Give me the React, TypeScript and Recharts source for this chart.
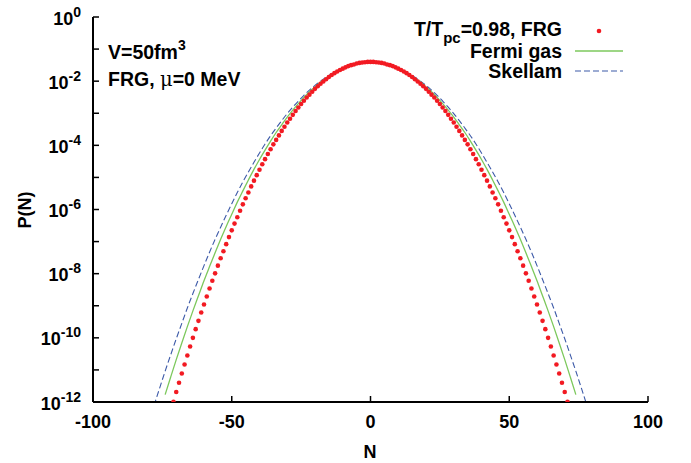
import React from 'react';
import { ComposedChart, Line, Scatter, XAxis, YAxis } from 'recharts';

const W = 691;
const H = 463;
const FONT = '"Liberation Sans", Arial, Helvetica, sans-serif';

// FRG points at every integer N, starting from frgStartN (log10 P)
const frgStartN = -71;
const frgLog10 = [
  -11.99, -11.69, -11.40, -11.11, -10.83, -10.55, -10.27, -10.00, -9.73, -9.47,
  -9.21, -8.96, -8.71, -8.46, -8.22, -7.99, -7.75, -7.52, -7.30, -7.08,
  -6.86, -6.65, -6.44, -6.24, -6.04, -5.84, -5.65, -5.47, -5.28, -5.10,
  -4.93, -4.76, -4.59, -4.43, -4.27, -4.12, -3.97, -3.83, -3.69, -3.55,
  -3.42, -3.29, -3.17, -3.05, -2.93, -2.82, -2.71, -2.61, -2.51, -2.42,
  -2.33, -2.24, -2.16, -2.08, -2.01, -1.94, -1.87, -1.81, -1.75, -1.70,
  -1.65, -1.61, -1.57, -1.53, -1.50, -1.48, -1.45, -1.43, -1.42, -1.41,
  -1.40,
  -1.40,
  -1.40, -1.41, -1.42, -1.43, -1.45, -1.48, -1.50, -1.53, -1.57, -1.61,
  -1.65, -1.70, -1.75, -1.81, -1.87, -1.94, -2.01, -2.08, -2.16, -2.24,
  -2.33, -2.42, -2.51, -2.61, -2.71, -2.82, -2.93, -3.05, -3.17, -3.29,
  -3.42, -3.55, -3.69, -3.83, -3.97, -4.12, -4.27, -4.43, -4.59, -4.76,
  -4.93, -5.10, -5.28, -5.47, -5.65, -5.84, -6.04, -6.24, -6.44, -6.65,
  -6.86, -7.08, -7.30, -7.52, -7.75, -7.99, -8.22, -8.46, -8.71, -8.96,
  -9.21, -9.47, -9.73, -10.00, -10.27, -10.55, -10.83, -11.11, -11.40, -11.69,
  -11.99,
];

// Fermi gas curve, sampled every 2 in N from fermiStartN (log10 P)
const fermiStartN = -74;
const fermiLog10 = [
  -11.77, -11.22, -10.68, -10.16, -9.65, -9.16, -8.69, -8.22, -7.78, -7.35,
  -6.93, -6.53, -6.15, -5.77, -5.42, -5.08, -4.75, -4.44, -4.15, -3.87,
  -3.60, -3.36, -3.12, -2.90, -2.70, -2.51, -2.33, -2.18, -2.03, -1.90,
  -1.79, -1.69, -1.61, -1.54, -1.49, -1.45, -1.43,
  -1.42,
  -1.43, -1.45, -1.49, -1.54, -1.61, -1.69, -1.79,
  -1.90, -2.03, -2.18, -2.33, -2.51, -2.70, -2.90, -3.12, -3.36, -3.60,
  -3.87, -4.15, -4.44, -4.75, -5.08, -5.42, -5.77, -6.15, -6.53, -6.93,
  -7.35, -7.78, -8.22, -8.69, -9.16, -9.65, -10.16, -10.68, -11.22, -11.77,
];

// Skellam curve, sampled every 2 in N from skellamStartN (log10 P)
const skellamStartN = -78;
const skellamLog10 = [
  -12.11, -11.57, -11.04, -10.53, -10.03, -9.55, -9.07, -8.62, -8.18, -7.75,
  -7.33, -6.93, -6.55, -6.18, -5.82, -5.47, -5.14, -4.83, -4.53, -4.24,
  -3.96, -3.70, -3.46, -3.23, -3.01, -2.81, -2.62, -2.44, -2.28, -2.13,
  -2.00, -1.88, -1.77, -1.68, -1.61, -1.54, -1.49, -1.46, -1.44,
  -1.43,
  -1.44, -1.46, -1.49, -1.54, -1.61, -1.68, -1.77, -1.88, -2.00,
  -2.13, -2.28, -2.44, -2.62, -2.81, -3.01, -3.23, -3.46, -3.70, -3.96,
  -4.24, -4.53, -4.83, -5.14, -5.47, -5.82, -6.18, -6.55, -6.93, -7.33,
  -7.75, -8.18, -8.62, -9.07, -9.55, -10.03, -10.53, -11.04, -11.57, -12.11,
];

const xTicks = [-100, -50, 0, 50, 100];
const yTickExps = [0, -1, -2, -3, -4, -5, -6, -7, -8, -9, -10, -11, -12];

const frgData = frgLog10.map((v, i) => ({ n: frgStartN + i, p: 10 ** v }));
const fermiData = fermiLog10.map((v, i) => ({ n: fermiStartN + 2 * i, p: 10 ** v }));
const skellamData = skellamLog10.map((v, i) => ({ n: skellamStartN + 2 * i, p: 10 ** v }));
const yTicks = yTickExps.map((e) => 10 ** e);

const RED = '#f21a22';
const GREEN = '#7cc85c';
const BLUE = '#3d5aa8';

function BottomTick({ x, y, payload }: any) {
  return (
    <g>
      <line x1={x} y1={y} x2={x} y2={y - 6} stroke="#000" strokeWidth={1.5} />
      <text x={x} y={y + 26} textAnchor="middle" fontFamily={FONT} fontWeight="bold" fontSize={18} fill="#000">
        {payload.value}
      </text>
    </g>
  );
}

function TopTick({ x, y }: any) {
  return <line x1={x} y1={y} x2={x} y2={y + 6} stroke="#000" strokeWidth={1.5} />;
}

function LeftTick({ x, y, payload }: any) {
  const e = Math.round(Math.log10(payload.value));
  return (
    <g>
      <line x1={x} y1={y} x2={x + 6} y2={y} stroke="#000" strokeWidth={1.5} />
      {e % 2 === 0 && (
        <text x={x - 12} y={y + 7.5} textAnchor="end" fontFamily={FONT} fontWeight="bold" fontSize={18} fill="#000">
          <tspan>10</tspan>
          <tspan dy={-8} fontSize={14}>{e}</tspan>
        </text>
      )}
    </g>
  );
}

function RightTick({ x, y }: any) {
  return <line x1={x} y1={y} x2={x - 6} y2={y} stroke="#000" strokeWidth={1.5} />;
}

const axisLine = { stroke: '#000', strokeWidth: 2 };

export default function App() {
  return (
    <div style={{ position: 'absolute', left: 0, top: 0, width: W, height: H, background: '#fff' }}>
      <ComposedChart width={W} height={H} margin={{ top: 17, right: 43, bottom: 0, left: 0 }}>
        <XAxis
          xAxisId="bottom"
          dataKey="n"
          type="number"
          domain={[-100, 100]}
          ticks={xTicks}
          interval={0}
          allowDataOverflow
          height={61}
          tickSize={0}
          tickMargin={0}
          tickLine={false}
          axisLine={axisLine}
          tick={<BottomTick />}
        />
        <XAxis
          xAxisId="top"
          orientation="top"
          dataKey="n"
          type="number"
          domain={[-100, 100]}
          ticks={xTicks}
          interval={0}
          allowDataOverflow
          height={0}
          tickSize={0}
          tickMargin={0}
          tickLine={false}
          axisLine={axisLine}
          tick={<TopTick />}
        />
        <YAxis
          yAxisId="left"
          dataKey="p"
          scale="log"
          domain={[1e-12, 1]}
          ticks={yTicks}
          interval={0}
          allowDataOverflow
          width={93}
          tickSize={0}
          tickMargin={0}
          tickLine={false}
          axisLine={axisLine}
          tick={<LeftTick />}
        />
        <YAxis
          yAxisId="right"
          orientation="right"
          dataKey="p"
          scale="log"
          domain={[1e-12, 1]}
          ticks={yTicks}
          interval={0}
          allowDataOverflow
          width={0}
          tickSize={0}
          tickMargin={0}
          tickLine={false}
          axisLine={axisLine}
          tick={<RightTick />}
        />
        <Line
          xAxisId="bottom"
          yAxisId="left"
          data={skellamData}
          dataKey="p"
          type="monotone"
          stroke={BLUE}
          strokeWidth={1.1}
          strokeDasharray="6 3"
          dot={false}
          isAnimationActive={false}
        />
        <Line
          xAxisId="bottom"
          yAxisId="left"
          data={fermiData}
          dataKey="p"
          type="monotone"
          stroke={GREEN}
          strokeWidth={1.3}
          dot={false}
          isAnimationActive={false}
        />
        <Scatter
          xAxisId="bottom"
          yAxisId="left"
          data={frgData}
          dataKey="p"
          fill={RED}
          isAnimationActive={false}
          shape={(props: any) => <circle cx={props.cx} cy={props.cy} r={2.3} fill={RED} />}
        />
      </ComposedChart>
      <svg
        width={W}
        height={H}
        style={{ position: 'absolute', left: 0, top: 0, pointerEvents: 'none' }}
        fontFamily={FONT}
        fontWeight="bold"
        fill="#000"
      >
        <text x={108} y={58.5} fontSize={19.5}>
          V=50fm<tspan dy={-9} fontSize={14}>3</tspan>
        </text>
        <text x={108} y={86} fontSize={19.5}>
          FRG, <tspan fontWeight="normal" fontFamily="'DejaVu Serif', serif">μ</tspan>=0 MeV
        </text>

        <text x={562} y={36} fontSize={19.5} textAnchor="end">
          T/T<tspan dy={7} fontSize={15}>pc</tspan>
          <tspan dy={-7}>=0.98, FRG</tspan>
        </text>
        <circle cx={599} cy={31} r={2.3} fill={RED} />
        <text x={562} y={57.5} fontSize={19.5} textAnchor="end">Fermi gas</text>
        <line x1={575} y1={51} x2={623} y2={51} stroke={GREEN} strokeWidth={1.3} />
        <text x={562} y={77.5} fontSize={19.5} textAnchor="end">Skellam</text>
        <line x1={575} y1={71} x2={623} y2={71} stroke={BLUE} strokeWidth={1.1} strokeDasharray="6 3" />

        <text x={370} y={458} fontSize={18} textAnchor="middle">N</text>
        <text x={0} y={0} fontSize={18} textAnchor="middle" transform="translate(31 210) rotate(-90)">
          P(N)
        </text>
      </svg>
    </div>
  );
}
